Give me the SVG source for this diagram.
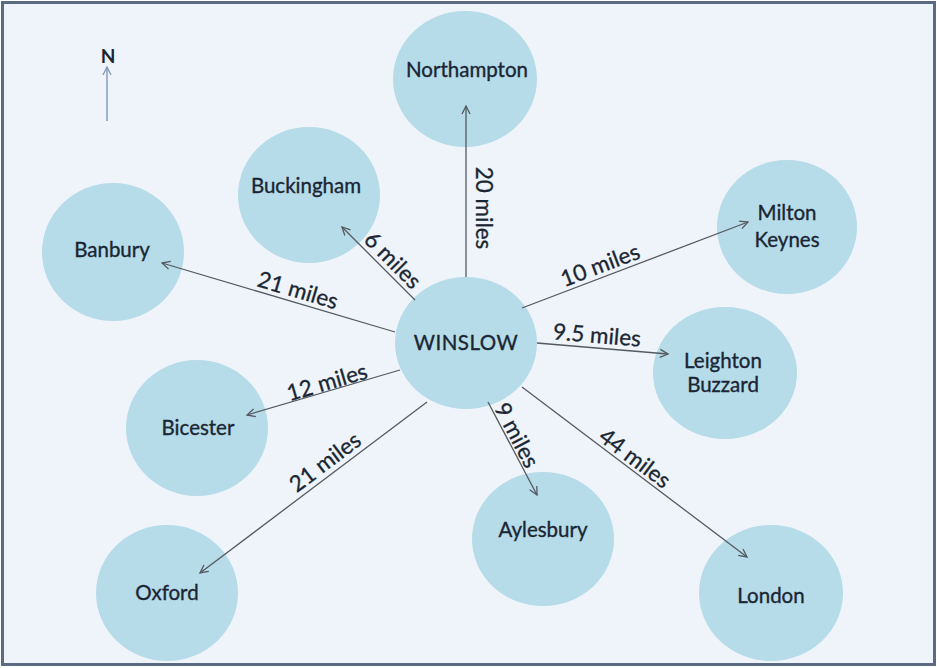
<svg xmlns="http://www.w3.org/2000/svg" width="937" height="668" viewBox="0 0 937 668">
<defs>
<style>
.bg{fill:#eef4f9;stroke:#5b6b82;stroke-width:3}
.node{fill:#b6dbe9}
.nt{font-family:Lato,"Open Sans","Liberation Sans",sans-serif;font-size:20.5px;fill:#1a2633;stroke:#1a2633;stroke-width:0.35;text-anchor:middle}
.lbl{font-family:Lato,"Open Sans","Liberation Sans",sans-serif;font-size:22.5px;fill:#1a2633;stroke:#1a2633;stroke-width:0.3;text-anchor:middle}
.edge{stroke:#555a60;stroke-width:1.3;fill:none;marker-end:url(#ah)}
</style>
<marker id="ah" viewBox="0 0 10 10" refX="9" refY="5" markerWidth="10" markerHeight="10" markerUnits="userSpaceOnUse" orient="auto">
<path d="M1,1 L9,5 L1,9" fill="none" stroke="#555a60" stroke-width="1.3"/>
</marker>
<marker id="ahn" viewBox="0 0 10 10" refX="9" refY="5" markerWidth="10" markerHeight="10" markerUnits="userSpaceOnUse" orient="auto">
<path d="M1,1 L9,5 L1,9" fill="none" stroke="#8096b8" stroke-width="1.3"/>
</marker>
</defs>
<rect class="bg" x="2.5" y="2.5" width="932" height="662"/>
<g id="north">
<line x1="107" y1="121" x2="107" y2="67" stroke="#8096b8" stroke-width="1.4" marker-end="url(#ahn)"/>
<text x="108" y="63" font-family="Lato,'Open Sans','Liberation Sans',sans-serif" font-size="19" font-weight="bold" fill="#1a2633" text-anchor="middle">N</text>
</g>
<g id="northampton"><ellipse class="node" cx="465" cy="79" rx="72" ry="68"/><text class="nt" x="467" y="77">Northampton</text></g>
<g id="buckingham"><ellipse class="node" cx="309" cy="195" rx="71" ry="68"/><text class="nt" x="306" y="193">Buckingham</text></g>
<g id="banbury"><ellipse class="node" cx="113" cy="252" rx="71" ry="69"/><text class="nt" x="112" y="257">Banbury</text></g>
<g id="milton-keynes"><ellipse class="node" cx="787" cy="227" rx="70" ry="67"/><text class="nt" x="787" y="220">Milton</text><text class="nt" x="787" y="247">Keynes</text></g>
<g id="winslow"><ellipse class="node" cx="466" cy="343" rx="71" ry="66"/><text class="nt" x="466" y="350" letter-spacing="0.5">WINSLOW</text></g>
<g id="leighton-buzzard"><ellipse class="node" cx="725" cy="373" rx="72" ry="66"/><text class="nt" x="723" y="368">Leighton</text><text class="nt" x="723" y="392">Buzzard</text></g>
<g id="bicester"><ellipse class="node" cx="197" cy="428" rx="71" ry="68"/><text class="nt" x="198" y="435">Bicester</text></g>
<g id="oxford"><ellipse class="node" cx="167" cy="593" rx="71" ry="68"/><text class="nt" x="167" y="600">Oxford</text></g>
<g id="aylesbury"><ellipse class="node" cx="543" cy="539" rx="71" ry="67"/><text class="nt" x="543" y="537">Aylesbury</text></g>
<g id="london"><ellipse class="node" cx="771" cy="593" rx="72" ry="68"/><text class="nt" x="771" y="603" font-size="26">London</text></g>
<g id="connectors">
<line class="edge" x1="466" y1="277" x2="466" y2="106"/>
<line class="edge" x1="415" y1="300" x2="342" y2="227"/>
<line class="edge" x1="395" y1="332" x2="162" y2="263"/>
<line class="edge" x1="522" y1="308" x2="748" y2="222"/>
<line class="edge" x1="537" y1="343" x2="668" y2="354"/>
<line class="edge" x1="400" y1="370" x2="247" y2="415"/>
<line class="edge" x1="427" y1="402" x2="200" y2="573"/>
<line class="edge" x1="488" y1="402" x2="537" y2="495"/>
<line class="edge" x1="522" y1="387" x2="747" y2="557"/>
</g>
<g id="labels">
<text class="lbl" transform="translate(484,208) rotate(90)" y="8">20 miles</text>
<text class="lbl" transform="translate(393,260) rotate(45)" y="8">6 miles</text>
<text class="lbl" transform="translate(298,290) rotate(16.5)" y="8">21 miles</text>
<text class="lbl" transform="translate(600,265) rotate(-20.8)" y="8">10 miles</text>
<text class="lbl" transform="translate(597,335) rotate(4.8)" y="8">9.5 miles</text>
<text class="lbl" transform="translate(327,382) rotate(-16.4)" y="8">12 miles</text>
<text class="lbl" transform="translate(325,462) rotate(-37)" y="8">21 miles</text>
<text class="lbl" transform="translate(517,435) rotate(62.2)" y="8">9 miles</text>
<text class="lbl" transform="translate(635,458) rotate(37)" y="8">44 miles</text>
</g>
</svg>
